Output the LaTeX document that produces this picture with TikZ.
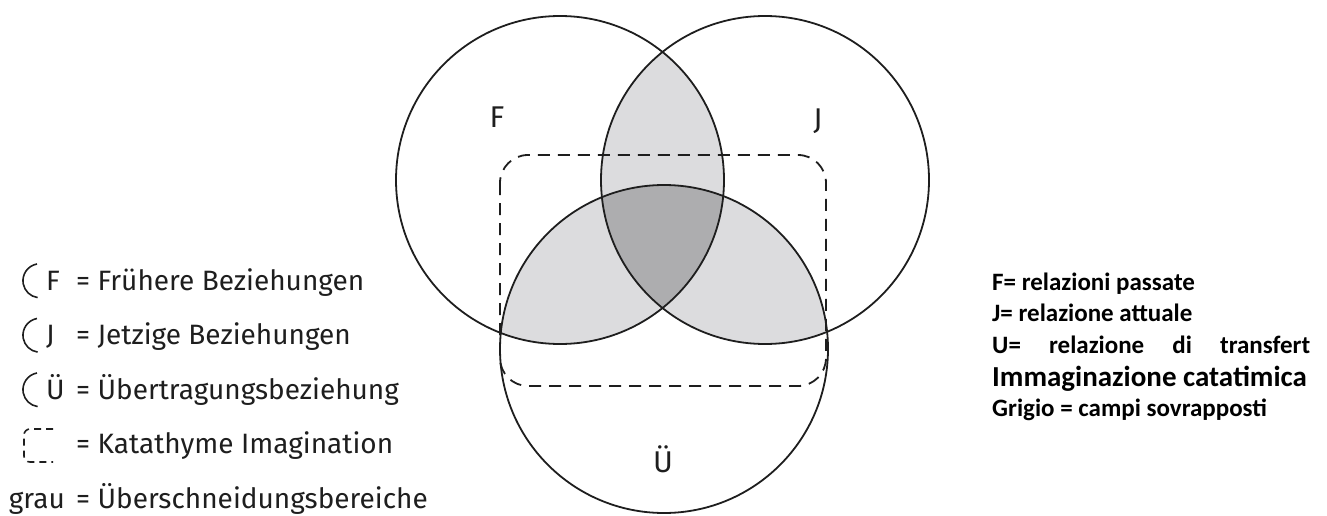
\documentclass[tikz,border=0pt]{standalone}
\usepackage{fontspec}
\setsansfont{Fira Sans}
\newfontfamily\notefont{Carlito}
\usetikzlibrary{positioning}
\definecolor{cline}{HTML}{1E1E1E}
\definecolor{cshade}{HTML}{DCDCDE}
\definecolor{cdark}{HTML}{ADADAF}
\tikzset{
  vennring/.style={draw=cline, line width=1.8pt},
  imagbox/.style={draw=cline, line width=1.8pt, dash pattern=on 12pt off 8pt, rounded corners=28pt},
  setlabel/.style={font=\sffamily\fontsize{30}{34}\selectfont, text=cline, anchor=base, inner sep=0pt},
  legendtext/.style={font=\sffamily\fontsize{28}{32}\selectfont, text=cline, anchor=base west, inner sep=0pt},
  legendmark/.style={draw=cline, line width=1.6pt},
  notetext/.style={font=\notefont\bfseries\fontsize{25}{30}\selectfont, anchor=base west, inner sep=0pt}
}

\begin{document}
\begin{tikzpicture}[x=1pt, y=-1pt]
  \useasboundingbox (0,0) rectangle (1327,516);
  % centres of the three sets
  \coordinate (cF) at (560,180);
  \coordinate (cJ) at (765,180);
  \coordinate (cU) at (664,349);

  % grey overlaps
  \begin{scope}
    \clip (cF) circle[radius=164pt];
    \fill[cshade] (cJ) circle[radius=164pt];
    \fill[cshade] (cU) circle[radius=164pt];
  \end{scope}
  \begin{scope}
    \clip (cJ) circle[radius=164pt];
    \fill[cshade] (cU) circle[radius=164pt];
  \end{scope}
  \begin{scope}
    \clip (cF) circle[radius=164pt];
    \clip (cJ) circle[radius=164pt];
    \fill[cdark] (cU) circle[radius=164pt];
  \end{scope}

  \draw[vennring] (cF) circle[radius=164pt];
  \draw[vennring] (cJ) circle[radius=164pt];
  \draw[vennring] (cU) circle[radius=164pt];
  \draw[imagbox] (500,155) rectangle (826,386);

  \node[setlabel] (lF) at (497,128) {F};
  \node[setlabel] (lJ) at (818,129) {J};
  \node[setlabel] (lU) at (663,472) {Ü};

  % legend (left)
  \draw[legendmark] (37,264) arc[start angle=100, end angle=262, radius=17pt];
  \node[legendtext] (kF) at (46,290) {F};
  \node[legendtext] (tF) at (76,290) {= Frühere Beziehungen};
  \draw[legendmark] (37,318.5) arc[start angle=100, end angle=262, radius=17pt];
  \node[legendtext] (kJ) at (46,344.5) {J};
  \node[legendtext] (tJ) at (76,344.5) {= Jetzige Beziehungen};
  \draw[legendmark] (37,373) arc[start angle=100, end angle=262, radius=17pt];
  \node[legendtext] (kU) at (46,399) {Ü};
  \node[legendtext] (tU) at (76,399) {= Übertragungsbeziehung};
  \draw[legendmark, dash pattern=on 7pt off 5pt, rounded corners=6pt] (53,429) -- (24,429) -- (24,462) -- (53,462);
  \node[legendtext] (tI) at (76,453.5) {= Katathyme Imagination};
  \node[legendtext, anchor=base east] (kG) at (65,508) {grau};
  \node[legendtext] (tG) at (76,508) {= Überschneidungsbereiche};

  % notes (right)
  \node[notetext] (nF) at (992,290) {F= relazioni passate};
  \node[notetext] (nJ) at (992,321) {J= relazione attuale};
  \node[notetext] (nU) at (992,353) {\makebox[318pt][s]{U= relazione di transfert}};
  \node[notetext, font=\notefont\bfseries\fontsize{29}{34}\selectfont] (nI) at (992,386) {Immaginazione catatimica};
  \node[notetext] (nG) at (992,416) {Grigio = campi sovrapposti};
\end{tikzpicture}
\end{document}
